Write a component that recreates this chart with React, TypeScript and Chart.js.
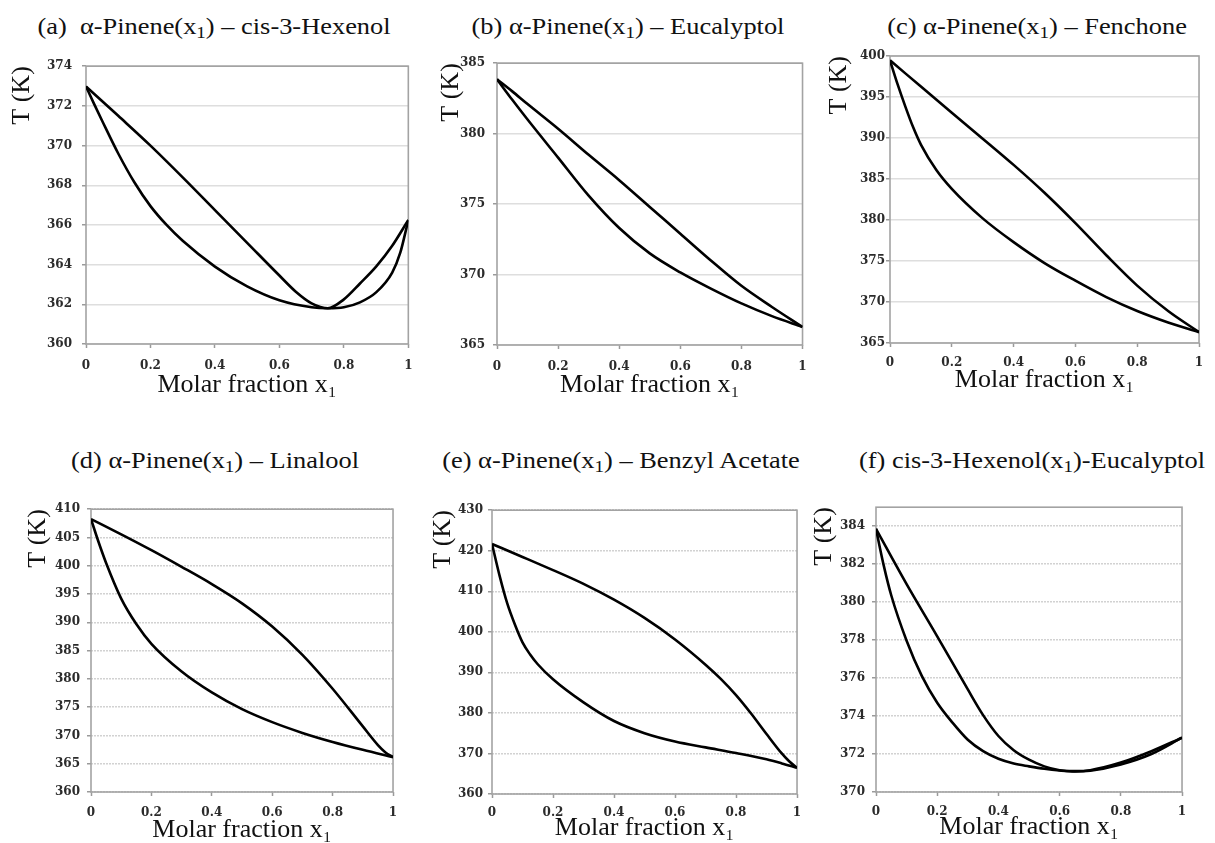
import React, { useEffect, useRef } from 'react';
import { Chart, registerables } from 'chart.js';

Chart.register(...registerables);

// ---------- data ----------
const xTicks = [0, 0.2, 0.4, 0.6, 0.8, 1];

// (a) α-Pinene – cis-3-Hexenol
const aDewX = [0, 0.1, 0.2, 0.3, 0.4, 0.5, 0.6, 0.65, 0.7, 0.75, 0.8, 0.85, 0.9, 0.95, 1];
const aDewT = [372.98, 371.5, 370.0, 368.4, 366.75, 365.1, 363.45, 362.65, 362.05, 361.8, 362.25, 363.05, 363.9, 364.95, 366.25];
const aBubX = [0, 0.025, 0.05, 0.1, 0.15, 0.2, 0.25, 0.3, 0.4, 0.5, 0.6, 0.7, 0.75, 0.8, 0.85, 0.9, 0.95, 0.975, 1];
const aBubT = [372.98, 372.1, 371.25, 369.6, 368.15, 366.95, 366.0, 365.2, 363.9, 362.9, 362.2, 361.85, 361.8, 361.85, 362.1, 362.6, 363.6, 364.6, 366.25];
const aYTicks = [360, 362, 364, 366, 368, 370, 372, 374];

// (b) α-Pinene – Eucalyptol
const bDewX = [0, 0.05, 0.1, 0.2, 0.3, 0.4, 0.5, 0.6, 0.7, 0.8, 0.9, 1];
const bDewT = [383.86, 383.0, 382.1, 380.35, 378.5, 376.7, 374.8, 372.9, 371.0, 369.2, 367.7, 366.28];
const bBubX = [0, 0.05, 0.1, 0.2, 0.3, 0.4, 0.5, 0.6, 0.7, 0.8, 0.9, 1];
const bBubT = [383.86, 382.4, 381.0, 378.3, 375.6, 373.3, 371.5, 370.15, 369.0, 367.95, 367.05, 366.28];
const bYTicks = [365, 370, 375, 380, 385];

// (c) α-Pinene – Fenchone
const cDewX = [0, 0.1, 0.2, 0.3, 0.4, 0.5, 0.6, 0.7, 0.8, 0.9, 1];
const cDewT = [399.47, 396.27, 393.07, 389.92, 386.72, 383.32, 379.62, 375.7, 372.0, 368.9, 366.32];
const cBubX = [0, 0.025, 0.05, 0.075, 0.1, 0.15, 0.2, 0.3, 0.4, 0.5, 0.6, 0.7, 0.8, 0.9, 1];
const cBubT = [399.47, 396.5, 393.8, 391.3, 389.2, 386.1, 383.8, 380.2, 377.3, 374.75, 372.6, 370.6, 368.9, 367.5, 366.32];
const cYTicks = [365, 370, 375, 380, 385, 390, 395, 400];

// (d) α-Pinene – Linalool
const dDewX = [0, 0.1, 0.2, 0.3, 0.4, 0.5, 0.6, 0.7, 0.8, 0.9, 0.95, 0.975, 1];
const dDewT = [408.26, 405.56, 402.76, 399.81, 396.76, 393.36, 389.26, 384.26, 378.26, 371.6, 368.3, 367.0, 366.16];
const dBubX = [0, 0.025, 0.05, 0.1, 0.15, 0.2, 0.3, 0.4, 0.5, 0.6, 0.7, 0.8, 0.9, 1];
const dBubT = [408.26, 404.2, 400.5, 394.2, 389.7, 386.2, 381.3, 377.6, 374.65, 372.35, 370.45, 368.85, 367.45, 366.16];
const dYTicks = [360, 365, 370, 375, 380, 385, 390, 395, 400, 405, 410];

// (e) α-Pinene – Benzyl Acetate
const eDewX = [0, 0.1, 0.2, 0.3, 0.4, 0.5, 0.6, 0.7, 0.75, 0.8, 0.85, 0.9, 0.95, 0.975, 1];
const eDewT = [421.67, 418.47, 415.22, 411.82, 407.92, 403.42, 398.12, 391.9, 388.4, 384.4, 379.8, 374.8, 370.0, 368.0, 366.45];
const eBubX = [0, 0.025, 0.05, 0.075, 0.1, 0.125, 0.15, 0.2, 0.3, 0.4, 0.5, 0.6, 0.7, 0.8, 0.9, 0.95, 1];
const eBubT = [421.67, 413.8, 407.0, 401.8, 397.4, 394.4, 392.0, 388.3, 382.6, 378.0, 375.0, 372.95, 371.5, 370.1, 368.55, 367.55, 366.45];
const eYTicks = [360, 370, 380, 390, 400, 410, 420, 430];

// (f) cis-3-Hexenol – Eucalyptol
const fDewX = [0, 0.1, 0.2, 0.3, 0.35, 0.4, 0.45, 0.5, 0.55, 0.6, 0.65, 0.7, 0.8, 0.9, 1];
const fDewT = [383.86, 380.95, 378.2, 375.4, 374.05, 372.95, 372.2, 371.7, 371.35, 371.15, 371.1, 371.15, 371.55, 372.15, 372.86];
const fBubX = [0, 0.025, 0.05, 0.1, 0.15, 0.2, 0.25, 0.3, 0.35, 0.4, 0.45, 0.5, 0.55, 0.6, 0.65, 0.7, 0.8, 0.9, 1];
const fBubT = [383.86, 381.95, 380.35, 377.97, 376.1, 374.7, 373.65, 372.75, 372.15, 371.75, 371.5, 371.35, 371.22, 371.13, 371.08, 371.12, 371.45, 372.0, 372.86];
const fYTicks = [370, 372, 374, 376, 378, 380, 382, 384];

const titles: [string, string, string][] = [
  ['(a)  α-Pinene(x', '1', ') – cis-3-Hexenol'],
  ['(b) α-Pinene(x', '1', ') – Eucalyptol'],
  ['(c) α-Pinene(x', '1', ') – Fenchone'],
  ['(d) α-Pinene(x', '1', ') – Linalool'],
  ['(e) α-Pinene(x', '1', ') – Benzyl Acetate'],
  ['(f) cis-3-Hexenol(x', '1', ')-Eucalyptol'],
];

const xTitle = 'Molar fraction x₁';
const yTitle = 'T (K)';

const series = [
  { dx: aDewX, dt: aDewT, bx: aBubX, bt: aBubT, yTicks: aYTicks },
  { dx: bDewX, dt: bDewT, bx: bBubX, bt: bBubT, yTicks: bYTicks },
  { dx: cDewX, dt: cDewT, bx: cBubX, bt: cBubT, yTicks: cYTicks },
  { dx: dDewX, dt: dDewT, bx: dBubX, bt: dBubT, yTicks: dYTicks },
  { dx: eDewX, dt: eDewT, bx: eBubX, bt: eBubT, yTicks: eYTicks },
  { dx: fDewX, dt: fDewT, bx: fBubX, bt: fBubT, yTicks: fYTicks },
];

// ---------- layout ----------
type Layout = {
  L: number; R: number; T: number; B: number;
  W: number; H: number; yPad: number; xPad: number;
  cx: number; base: number; dotted: boolean;
  yMin: number; yMax: number;
};

const layouts: Layout[] = [
  { L: 86, R: 413, T: 59, B: 344, W: 77, H: 54, yPad: 10, xPad: 10.5, cx: 214, base: 34.3, dotted: false, yMin: 360, yMax: 374 },
  { L: 497, R: 807, T: 58, B: 345, W: 59, H: 53, yPad: 8, xPad: 10.3, cx: 628, base: 34.3, dotted: false, yMin: 365, yMax: 385 },
  { L: 890, R: 1202, T: 56, B: 343, W: 64, H: 50, yPad: 1, xPad: 8.8, cx: 1037, base: 34.3, dotted: false, yMin: 365, yMax: 400 },
  { L: 91, R: 397, T: 505, B: 792, W: 66, H: 51, yPad: 7, xPad: 9.8, cx: 215, base: 468.3, dotted: true, yMin: 360, yMax: 410 },
  { L: 492, R: 799, T: 508, B: 794, W: 62, H: 47, yPad: 5, xPad: 7.8, cx: 621, base: 468.3, dotted: true, yMin: 360, yMax: 430 },
  { L: 876, R: 1185, T: 503, B: 792, W: 65, H: 48, yPad: 7, xPad: 8.8, cx: 1032, base: 468.3, dotted: true, yMin: 370, yMax: 385 },
];

const PAD_TOP = 10;
const PAD_RIGHT = 10;
const SERIF = "'Liberation Serif', 'Times New Roman', serif";
const TICK_FONT = "'DejaVu Serif', serif";

const framePlugin = {
  id: 'frameBox',
  beforeDatasetsDraw(chart: any) {
    const { ctx, chartArea: a } = chart;
    ctx.save();
    ctx.strokeStyle = '#a3a3a3';
    ctx.lineWidth = 1.6;
    ctx.strokeRect(a.left, a.top, a.right - a.left, a.bottom - a.top);
    ctx.restore();
  },
};

function Panel({ idx }: { idx: number }) {
  const ref = useRef<HTMLCanvasElement | null>(null);
  const lay = layouts[idx];
  const s = series[idx];
  const width = lay.W + (lay.R - lay.L) + PAD_RIGHT;
  const height = PAD_TOP + (lay.B - lay.T) + lay.H;

  useEffect(() => {
    if (!ref.current) return;
    const mk = (xs: number[], ys: number[]) => xs.map((x, i) => ({ x, y: ys[i] }));
    const lineStyle = {
      borderColor: '#000',
      borderWidth: 2.6,
      pointRadius: 0,
      fill: false,
      cubicInterpolationMode: 'monotone' as const,
    };
    const chart = new Chart(ref.current, {
      type: 'line',
      data: {
        datasets: [
          { label: 'dew', data: mk(s.dx, s.dt), ...lineStyle },
          { label: 'bubble', data: mk(s.bx, s.bt), ...lineStyle },
        ],
      },
      plugins: [framePlugin],
      options: {
        animation: false,
        responsive: false,
        maintainAspectRatio: false,
        layout: { padding: { top: PAD_TOP, right: PAD_RIGHT, left: 0, bottom: 0 } },
        plugins: { legend: { display: false }, title: { display: false }, tooltip: { enabled: false } },
        scales: {
          x: {
            type: 'linear',
            min: 0,
            max: 1,
            afterBuildTicks: (sc: any) => { sc.ticks = xTicks.map((v) => ({ value: v })); },
            afterFit: (sc: any) => { sc.height = lay.H; },
            ticks: {
              padding: lay.xPad,
              color: '#2b2b2b',
              font: { family: TICK_FONT, size: 12, weight: 'bold' },
              maxRotation: 0,
              autoSkip: false,
              callback: (v: any) => String(v),
            },
            grid: { drawOnChartArea: false, drawTicks: true, tickLength: 4, tickColor: '#9a9a9a', tickWidth: 1.5 },
            border: { display: false },
            title: {
              display: true,
              text: xTitle,
              color: '#111',
              font: { family: SERIF, size: 26, lineHeight: 1 },
              padding: 0,
            },
          },
          y: {
            type: 'linear',
            min: lay.yMin,
            max: lay.yMax,
            afterBuildTicks: (sc: any) => { sc.ticks = s.yTicks.map((v) => ({ value: v })); },
            afterFit: (sc: any) => { sc.width = lay.W; },
            ticks: {
              padding: lay.yPad,
              color: '#2b2b2b',
              font: { family: TICK_FONT, size: 12, weight: 'bold' },
              autoSkip: false,
              callback: (v: any) => String(v),
            },
            grid: {
              drawOnChartArea: true,
              drawTicks: true,
              tickLength: 4,
              color: lay.dotted ? '#d2d2d2' : '#dedede',
              lineWidth: 1.5,
              tickColor: '#9a9a9a',
              tickWidth: 1.5,
            },
            border: { display: false, dash: lay.dotted ? [2, 1] : [] },
            title: {
              display: true,
              text: yTitle,
              align: 'end',
              color: '#111',
              font: { family: SERIF, size: 26, lineHeight: 1 },
              padding: 0,
            },
          },
        },
      } as any,
    });
    return () => chart.destroy();
  }, [idx]);

  const t = titles[idx];
  return (
    <>
      <div
        style={{
          position: 'absolute',
          left: lay.cx,
          top: lay.base - 20.1,
          transform: 'translateX(-50%) scaleX(1.1)',
          fontFamily: SERIF,
          fontSize: 24,
          lineHeight: '24px',
          whiteSpace: 'pre',
          color: '#111',
        }}
      >
        {t[0]}
        <span style={{ fontSize: '0.72em', verticalAlign: '-0.25em' }}>{t[1]}</span>
        {t[2]}
      </div>
      <canvas
        ref={ref}
        width={width}
        height={height}
        style={{ position: 'absolute', left: lay.L - lay.W, top: lay.T - PAD_TOP, width, height }}
      />
    </>
  );
}

export default function App() {
  return (
    <div style={{ position: 'absolute', left: 0, top: 0, width: 1215, height: 843, background: '#fff', overflow: 'hidden' }}>
      {layouts.map((_, i) => (
        <Panel key={i} idx={i} />
      ))}
    </div>
  );
}
